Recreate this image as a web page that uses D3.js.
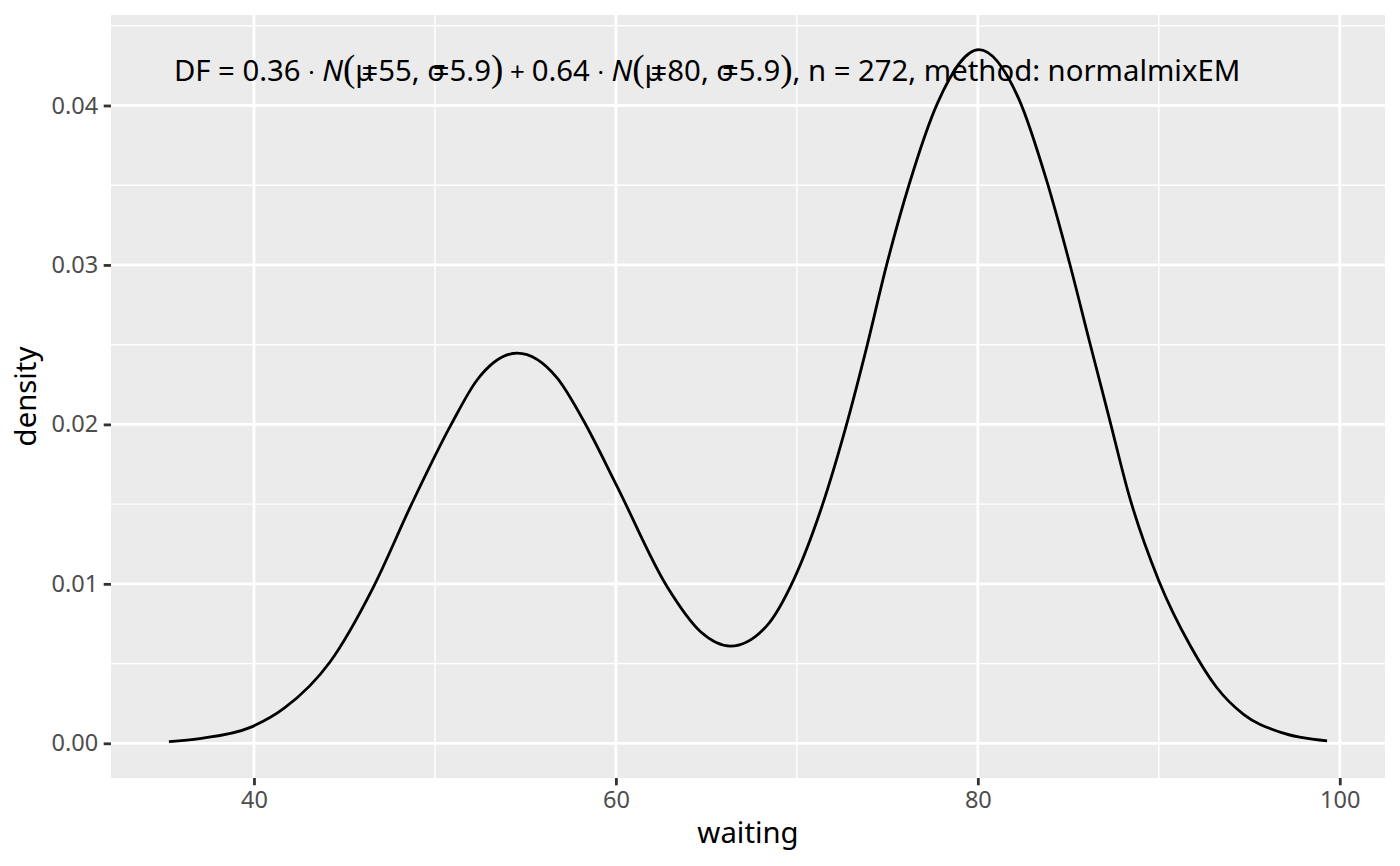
<!DOCTYPE html>
<html>
<head>
<meta charset="utf-8">
<script src="https://cdn.jsdelivr.net/npm/d3@7"></script>
<style>
  body { margin: 0; background: #fff; }
  text { font-family: "Noto Sans", "Open Sans", sans-serif; }
</style>
</head>
<body>
<div id="chart"></div>
<script>
// values: waiting time vs fitted mixture density
var waiting = [35.3, 37.0, 39.8, 41.67, 44.2, 46.6, 48.71, 50.9, 52.34, 54.55, 56.76, 58.23,
  60.07, 62.84, 64.68, 66.34, 68.36, 69.84, 71.31, 72.82, 73.85, 74.96, 76.19, 77.79, 80.06,
  82.27, 83.8, 85.05, 86.17, 87.26, 88.37, 90.0, 91.75, 93.2, 94.7, 96.7, 99.3];
var density = [0.0001, 0.0003, 0.001, 0.0022, 0.0051, 0.0098, 0.015, 0.02, 0.0228, 0.02447, 0.0229, 0.0202,
  0.0161, 0.0098, 0.007, 0.0061, 0.0074, 0.0103, 0.0146, 0.0203, 0.0248, 0.03, 0.035, 0.0402, 0.0435,
  0.0404, 0.0353, 0.0302, 0.0252, 0.0204, 0.0155, 0.0102, 0.0061, 0.0035, 0.0018, 0.0007, 0.00015];

var xTicks = [40, 60, 80, 100];
var xMinor = [50, 70, 90];
var yTicks = [0, 0.01, 0.02, 0.03, 0.04];
var yMinor = [0.005, 0.015, 0.025, 0.035, 0.045];
var yTickLabels = ["0.00", "0.01", "0.02", "0.03", "0.04"];

var xTitle = "waiting";
var yTitle = "density";

// the plotmath label, split into pieces so the N, brackets and "=" overlaps can be styled
var label = [
  {t: "DF = 0.36 "}, {t: "\u00b7", small: true}, {t: " "}, {t: "N", italic: true},
  {t: "(", paren: true}, {t: "\u03bc"}, {t: "=", over: true}, {t: "55, "},
  {t: "\u03c3"}, {t: "=", over: true}, {t: "5.9"}, {t: ")", paren: true},
  {t: " + ", plus: true}, {t: "0.64 "}, {t: "\u00b7", small: true}, {t: " "}, {t: "N", italic: true},
  {t: "(", paren: true}, {t: "\u03bc"}, {t: "=", over: true}, {t: "80, "},
  {t: "\u03c3"}, {t: "=", over: true}, {t: "5.9"}, {t: ")", paren: true},
  {t: ", n = 272, method: normalmixEM"}
];

var width = 1400, height = 866;
var margin = {top: 15, right: 15, bottom: 88, left: 111};

var xData = d3.extent(waiting), yData = [0, d3.max(density)];
var xPad = (xData[1] - xData[0]) * 0.05, yPad = (yData[1] - yData[0]) * 0.05;

var x = d3.scaleLinear()
  .domain([xData[0] - xPad, xData[1] + xPad])
  .range([margin.left, width - margin.right]);
var y = d3.scaleLinear()
  .domain([yData[0] - yPad, yData[1] + yPad])
  .range([height - margin.bottom, margin.top]);

var svg = d3.select("#chart").append("svg")
  .attr("width", width)
  .attr("height", height);

// panel
svg.append("rect")
  .attr("x", margin.left).attr("y", margin.top)
  .attr("width", width - margin.left - margin.right)
  .attr("height", height - margin.top - margin.bottom)
  .style("fill", "#EBEBEB");

var grid = svg.append("g");
grid.selectAll(".ymin").data(yMinor).enter().append("line")
  .attr("x1", margin.left).attr("x2", width - margin.right)
  .attr("y1", function(d) { return y(d); }).attr("y2", function(d) { return y(d); })
  .style("stroke", "#fff").style("stroke-width", 1.4);
grid.selectAll(".xmin").data(xMinor).enter().append("line")
  .attr("y1", margin.top).attr("y2", height - margin.bottom)
  .attr("x1", function(d) { return x(d); }).attr("x2", function(d) { return x(d); })
  .style("stroke", "#fff").style("stroke-width", 1.4);
grid.selectAll(".ymaj").data(yTicks).enter().append("line")
  .attr("x1", margin.left).attr("x2", width - margin.right)
  .attr("y1", function(d) { return y(d); }).attr("y2", function(d) { return y(d); })
  .style("stroke", "#fff").style("stroke-width", 2.8);
grid.selectAll(".xmaj").data(xTicks).enter().append("line")
  .attr("y1", margin.top).attr("y2", height - margin.bottom)
  .attr("x1", function(d) { return x(d); }).attr("x2", function(d) { return x(d); })
  .style("stroke", "#fff").style("stroke-width", 2.8);

// axes
var xAxis = d3.axisBottom(x).tickValues(xTicks).tickSize(7.3).tickPadding(5.5);
var yAxis = d3.axisLeft(y).tickValues(yTicks).tickSize(7.3).tickPadding(5.5)
  .tickFormat(function(d, i) { return yTickLabels[i]; });

var gx = svg.append("g")
  .attr("transform", "translate(0," + (height - margin.bottom) + ")")
  .call(xAxis);
var gy = svg.append("g")
  .attr("transform", "translate(" + margin.left + ",0)")
  .call(yAxis);

[gx, gy].forEach(function(g) {
  g.select(".domain").remove();
  g.selectAll(".tick line").style("stroke", "#333333").style("stroke-width", 2.8);
  g.selectAll(".tick text").style("fill", "#4D4D4D").style("font-size", "23.5px");
});
gx.selectAll(".tick text").attr("dy", "0.74em");

// density curve
var line = d3.line()
  .x(function(d, i) { return x(waiting[i]); })
  .y(function(d) { return y(d); })
  .curve(d3.curveMonotoneX);

svg.append("path")
  .datum(density)
  .attr("d", line)
  .style("fill", "none")
  .style("stroke", "#000")
  .style("stroke-width", 2.8);

// axis titles
svg.append("text")
  .attr("x", (margin.left + width - margin.right) / 2)
  .attr("y", 843)
  .attr("text-anchor", "middle")
  .style("font-size", "29.3px")
  .style("fill", "#000")
  .text(xTitle);

svg.append("text")
  .attr("transform", "translate(35.5," + ((margin.top + height - margin.bottom) / 2) + ") rotate(-90)")
  .attr("text-anchor", "middle")
  .style("font-size", "29.3px")
  .style("fill", "#000")
  .text(yTitle);

// fit label
var lab = svg.append("text")
  .attr("x", x(xData[0]) + 5)
  .attr("y", y(yData[1]) + 31)
  .style("font-size", "29.3px")
  .style("fill", "#000");

lab.selectAll("tspan").data(label).enter().append("tspan")
  .attr("dx", function(d) { return d.over ? "-0.42em" : null; })
  .style("font-style", function(d) { return d.italic ? "italic" : null; })
  .style("font-family", function(d) { return d.paren ? "'Liberation Serif', serif" : null; })
  .style("font-size", function(d) { return d.paren ? "37px" : (d.small ? "24px" : (d.plus ? "26px" : null)); })
  .attr("xml:space", "preserve")
  .text(function(d) { return d.t; });
</script>
</body>
</html>
